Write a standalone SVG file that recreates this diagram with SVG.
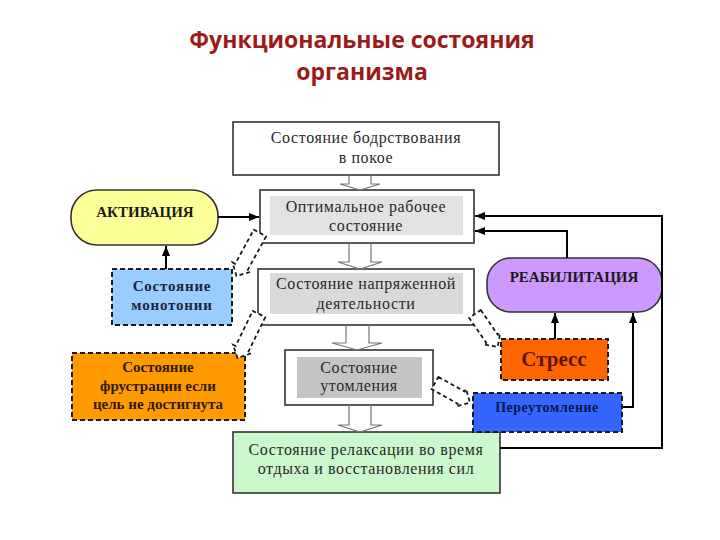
<svg xmlns="http://www.w3.org/2000/svg" width="720" height="540" viewBox="0 0 720 540">
<defs>
<style>
.title{font-family:"Open Sans","Liberation Sans",sans-serif;font-weight:bold;font-size:23px;fill:#9e1a1a;text-anchor:middle}
.t{font-family:"Liberation Serif","DejaVu Serif",serif;font-size:16px;letter-spacing:0.6px;fill:#2a2a2a;text-anchor:middle}
.tb{font-family:"Liberation Serif","DejaVu Serif",serif;font-weight:bold;font-size:15px;fill:#1a1a1a;text-anchor:middle}
.box{stroke:#333;stroke-width:1.6}
.dbox{stroke:#1a1a1a;stroke-width:2;stroke-dasharray:5 3}
.blk{fill:none;stroke:#777;stroke-width:1.2}
.darr{fill:#fff;stroke:#1a1a1a;stroke-width:1.8;stroke-dasharray:4 3}
.con{fill:none;stroke:#000;stroke-width:2}
</style>
<marker id="ah" markerWidth="10" markerHeight="8" refX="10" refY="4" orient="auto" markerUnits="userSpaceOnUse">
<path d="M0,0 L10,4 L0,8 z" fill="#000"/>
</marker>
</defs>
<rect width="720" height="540" fill="#fff"/>

<text class="title" x="362" y="48">Функциональные состояния</text>
<text class="title" x="362" y="80">организма</text>

<g id="node-rest">
<rect class="box" x="233" y="122" width="266" height="53" fill="#fff"/>
<text class="t" x="366" y="143">Состояние бодрствования</text>
<text class="t" x="366" y="163">в покое</text>
</g>

<g id="node-optimal">
<rect class="box" x="260" y="190" width="214" height="53" fill="#fff"/>
<rect x="270" y="196" width="193" height="39" fill="#e2e2e2"/>
<text class="t" x="366" y="212">Оптимальное рабочее</text>
<text class="t" x="366" y="231">состояние</text>
</g>

<g id="node-tension">
<rect class="box" x="258" y="269" width="216" height="56" fill="#fff"/>
<rect x="270" y="273" width="193" height="41" fill="#d9d9d9"/>
<text class="t" x="366" y="289">Состояние напряженной</text>
<text class="t" x="366" y="309">деятельности</text>
</g>

<g id="node-fatigue">
<rect class="box" x="285" y="350" width="148" height="55" fill="#fff"/>
<rect x="297" y="357" width="125" height="41" fill="#c4c4c4"/>
<text class="t" x="359" y="373">Состояние</text>
<text class="t" x="359" y="391">утомления</text>
</g>

<g id="node-relax">
<rect class="box" x="233" y="432" width="267" height="61" fill="#ccf7cc"/>
<text class="t" x="366" y="455">Состояние релаксации во время</text>
<text class="t" x="366" y="474">отдыха и восстановления сил</text>
</g>

<g id="node-activation">
<rect class="box" x="71" y="190" width="147" height="55" rx="26" fill="#ffff99"/>
<text class="tb" x="145" y="217">АКТИВАЦИЯ</text>
</g>

<g id="node-monotony">
<rect class="dbox" x="112" y="269" width="120" height="56" fill="#99ccff"/>
<text class="tb" x="172" y="291" style="letter-spacing:0.8px;fill:#1a2540">Состояние</text>
<text class="tb" x="172" y="310" style="letter-spacing:0.8px;fill:#1a2540">монотонии</text>
</g>

<g id="node-frustration">
<rect class="dbox" x="72" y="353" width="173" height="67" fill="#ff9a00"/>
<text class="tb" x="158" y="372" style="fill:#2e1a00">Состояние</text>
<text class="tb" x="158" y="391" style="fill:#2e1a00">фрустрации если</text>
<text class="tb" x="158" y="409" style="fill:#2e1a00">цель не достигнута</text>
</g>

<g id="node-rehab">
<rect class="box" x="487" y="258" width="175" height="54" rx="24" fill="#cc99ff"/>
<text class="tb" x="574" y="282">РЕАБИЛИТАЦИЯ</text>
</g>

<g id="node-stress">
<rect class="dbox" x="501" y="339" width="107" height="41" fill="#ff6600"/>
<text class="tb" x="554" y="366" style="font-size:21px;fill:#5a1400">Стресс</text>
</g>

<g id="node-overfatigue">
<rect class="dbox" x="473" y="393" width="149" height="39" fill="#3366ff"/>
<text class="tb" x="547" y="412" style="font-size:14px;letter-spacing:0.5px;fill:#0a1650">Переутомление</text>
</g>

<g id="connectors">
<path class="blk" d="M349,175 V184 H340 L360,190 L380,184 H371 V175"/>
<path class="blk" d="M349,243 V262 H338 L360,269 L382,262 H371 V243"/>
<path class="blk" d="M346,325 V343 H332 L357,350 L382,343 H369 V325"/>
<path class="blk" d="M349,405 V425 H338 L360,432 L382,425 H371 V405"/>
<g class="darr">
<polygon transform="translate(260,233) rotate(118.7)" points="0,-7 39,-7 39,-10 49,0 39,10 39,7 0,7"/>
<polygon transform="translate(259,314) rotate(116)" points="0,-7 39,-7 39,-10 49,0 39,10 39,7 0,7"/>
<polygon transform="translate(475,314) rotate(55.5)" points="0,-7 30,-7 30,-10 40,0 30,10 30,7 0,7"/>
<polygon transform="translate(435,383) rotate(29.2)" points="0,-7 30,-7 30,-10 40,0 30,10 30,7 0,7"/>
</g>
<path class="con" d="M218,217 H259" marker-end="url(#ah)"/>
<path class="con" d="M166,269 V246" marker-end="url(#ah)"/>
<path class="con" d="M555,339 V313" marker-end="url(#ah)"/>
<path class="con" d="M622,407 H633 V313" marker-end="url(#ah)"/>
<path class="con" d="M567,258 V231 H475" marker-end="url(#ah)"/>
<path class="con" d="M500,448 H662 V216 H475" marker-end="url(#ah)"/>
</g>
</svg>
